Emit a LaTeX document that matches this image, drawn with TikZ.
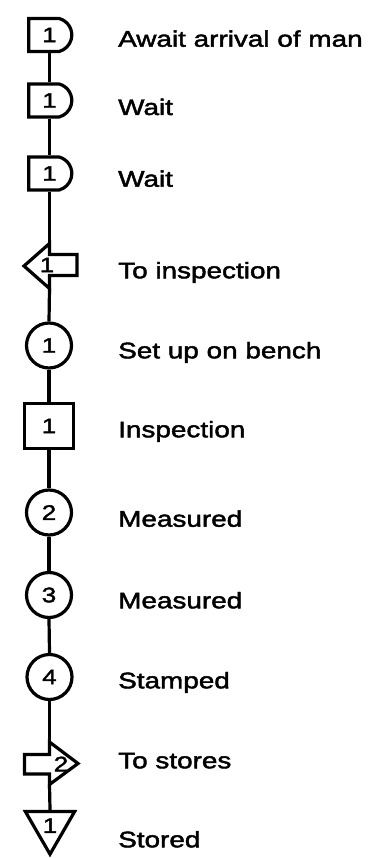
\documentclass[tikz,border=0pt]{standalone}
\usepackage{fontspec}
\setmainfont{Liberation Sans}
\newfontfamily\labfamily{Liberation Sans}[FakeStretch=1.24,FakeBold=2]
\newcommand\symnumfont{\labfamily\fontsize{21}{25}\selectfont}
\newcommand\symlabfont{\labfamily\fontsize{22.5}{27}\selectfont}
\usetikzlibrary{shapes.misc,shapes.geometric}
\begin{document}
\begin{tikzpicture}[x=1pt,y=-1pt,
  sym/.style={draw=black, line width=3.2pt, inner sep=0pt, font=\symnumfont},
  delaybox/.style={sym, rounded rectangle, rounded rectangle west arc=none,
    rounded rectangle arc length=150, minimum width=43pt, minimum height=33pt},
  opcircle/.style={sym, circle, minimum size=45pt},
  inspbox/.style={sym, rectangle, minimum width=49pt, minimum height=45pt},
  storetri/.style={sym, regular polygon, regular polygon sides=3,
    shape border rotate=180, minimum size=57pt},
  transport/.style={draw=black, line width=3.2pt, line join=miter},
  link/.style={draw=black, line width=3.2pt},
  lab/.style={anchor=base west, inner sep=0pt, font=\symlabfont},
  num/.style={inner sep=0pt, font=\symnumfont}
]
\useasboundingbox (0,0) rectangle (370,858);

% symbols
\node[delaybox] (d1) at (49.5,35) {1};
\node[delaybox] (d2) at (49.5,100.5) {1};
\node[delaybox] (d3) at (49.5,173.5) {1};

\coordinate (t1in) at (49.5,243.5);
\coordinate (t1out) at (49.5,288.5);
\draw[transport] (t1in) -- (24,266) -- (t1out) -- (49.5,275.5) -- (77,275.5)
  -- (77,254.5) -- (49.5,254.5) -- cycle;
\node[num] (t1) at (47,265) {1};

\node[opcircle] (c1) at (49,345.5) {1};
\node[inspbox] (sq) at (49,426) {1};
\node[opcircle] (c2) at (49,512.5) {2};
\node[opcircle] (c3) at (49,595) {3};
\node[opcircle] (c4) at (49.5,677) {4};

\coordinate (t2in) at (49.5,742);
\coordinate (t2out) at (49.5,784.5);
\draw[transport] (t2in) -- (78,763.5) -- (t2out) -- (49.5,774) -- (24.5,774)
  -- (24.5,754.5) -- (49.5,754.5) -- cycle;
\node[num] (t2) at (61,764) {2};

\node[storetri] (st) at (50,825.7) {1};

% connectors
\draw[link] (d1.south) -- (d2.north);
\draw[link] (d2.south) -- (d3.north);
\draw[link] (d3.south) -- (t1in);
\draw[link] (t1out) -- (c1.north);
\draw[link] (c1.south) -- (sq.north);
\draw[link] (sq.south) -- (c2.north);
\draw[link] (c2.south) -- (c3.north);
\draw[link] (c3.south) -- (c4.north);
\draw[link] (c4.south) -- (t2in);
\draw[link] (t2out) -- (st.north);

% labels
\node[lab] (l1) at (118,46.7) {Await arrival of man};
\node[lab] (l2) at (118,115) {Wait};
\node[lab] (l3) at (118,186.7) {Wait};
\node[lab] (l4) at (118,278.3) {To inspection};
\node[lab] (l5) at (118,358.3) {Set up on bench};
\node[lab] (l6) at (118,437.3) {Inspection};
\node[lab] (l7) at (118,526.7) {Measured};
\node[lab] (l8) at (118,608.3) {Measured};
\node[lab] (l9) at (118,688.3) {Stamped};
\node[lab] (l10) at (118,768.3) {To stores};
\node[lab] (l11) at (118,847.3) {Stored};
\end{tikzpicture}
\end{document}
